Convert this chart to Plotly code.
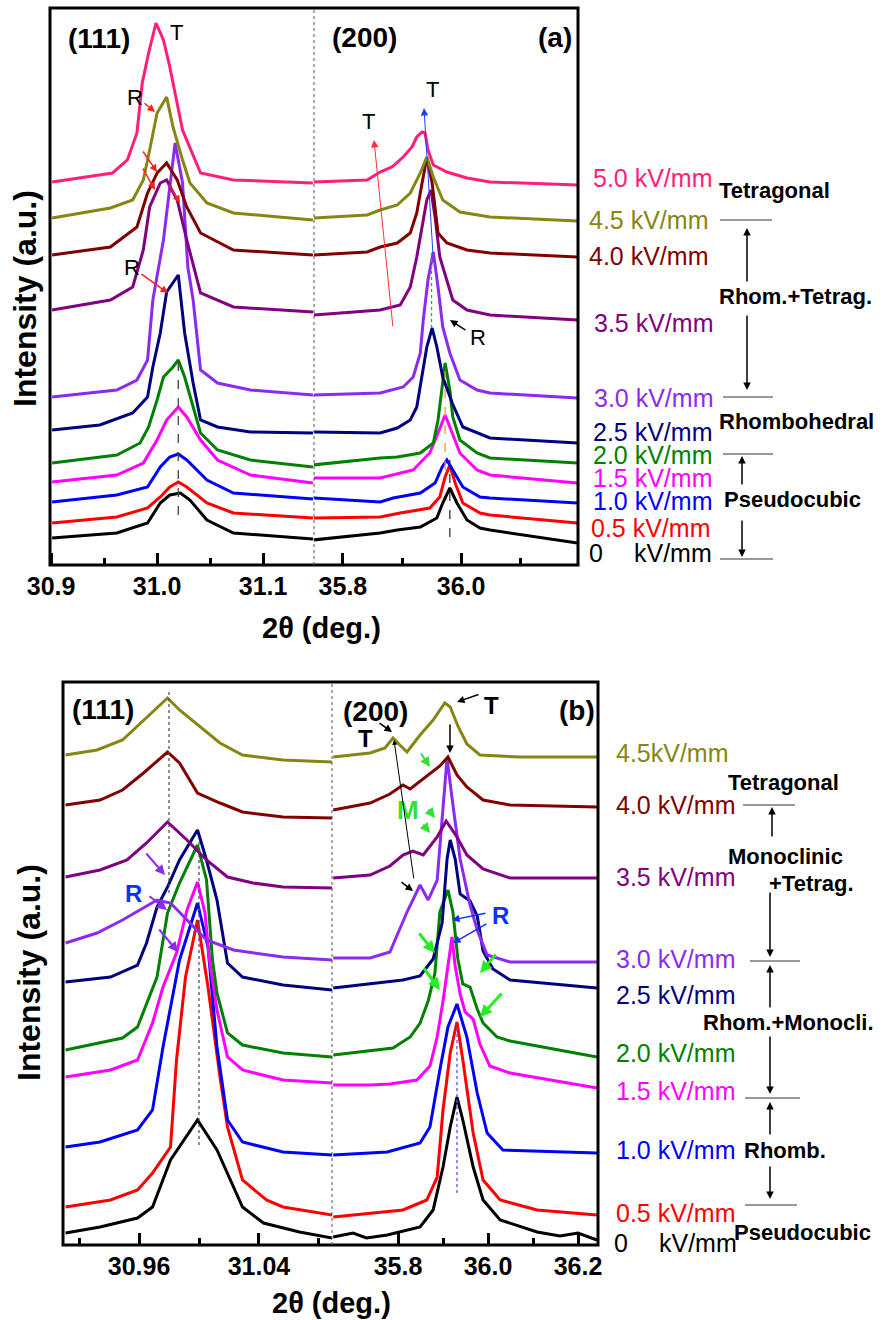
import plotly.graph_objects as go

# ---------------- DATA ----------------
FIELDS_A = ["0", "0.5", "1.0", "1.5", "2.0", "2.5", "3.0", "3.5", "4.0", "4.5", "5.0"]
FIELDS_B = ["0", "0.5", "1.0", "1.5", "2.0", "2.5", "3.0", "3.5", "4.0", "4.5"]
COLORS = ["#000000", "#FF0000", "#0000FF", "#FF00FF", "#008000", "#000080",
          "#8B2BF0", "#800080", "#800000", "#868612", "#FF1F78"]

# panel (a), (111) region: 2theta and offset intensity (a.u.)
A111_X = [
    [30.901, 30.962, 30.991, 31.003, 31.012, 31.022, 31.031, 31.047, 31.072, 31.147],
    [30.901, 30.962, 30.991, 31.003, 31.012, 31.020, 31.028, 31.047, 31.072, 31.147],
    [30.901, 30.962, 30.991, 31.003, 31.012, 31.020, 31.028, 31.047, 31.072, 31.147],
    [30.901, 30.962, 30.987, 31.000, 31.009, 31.020, 31.028, 31.041, 31.057, 31.088, 31.147],
    [30.901, 30.962, 30.984, 30.992, 31.000, 31.006, 31.015, 31.020, 31.026, 31.034, 31.041, 31.057, 31.088, 31.147],
    [30.901, 30.946, 30.977, 30.991, 30.996, 31.003, 31.009, 31.020, 31.026, 31.034, 31.041, 31.057, 31.088, 31.147],
    [30.901, 30.962, 30.981, 30.991, 30.996, 31.006, 31.012, 31.017, 31.024, 31.029, 31.034, 31.041, 31.057, 31.088, 31.147],
    [30.901, 30.956, 30.977, 30.987, 30.993, 31.003, 31.009, 31.019, 31.028, 31.041, 31.072, 31.147],
    [30.901, 30.956, 30.981, 30.991, 31.000, 31.009, 31.019, 31.028, 31.041, 31.072, 31.147],
    [30.901, 30.956, 30.977, 30.987, 30.993, 31.000, 31.009, 31.015, 31.024, 31.031, 31.047, 31.072, 31.147],
    [30.901, 30.958, 30.972, 30.981, 30.986, 30.992, 30.999, 31.006, 31.012, 31.024, 31.041, 31.072, 31.147],
]
A111_I = [
    [27, 32, 42, 62, 70, 72, 65, 45, 32, 26],
    [42, 48, 57, 68, 78, 83, 78, 62, 52, 47],
    [63, 70, 78, 98, 108, 111, 105, 85, 72, 66],
    [83, 90, 102, 125, 145, 158, 148, 125, 105, 90, 82],
    [102, 110, 122, 138, 165, 188, 198, 205, 188, 158, 132, 115, 105, 98],
    [135, 140, 152, 168, 198, 232, 273, 290, 232, 182, 145, 138, 133, 132],
    [168, 175, 185, 205, 265, 325, 378, 422, 382, 298, 265, 195, 182, 175, 170],
    [255, 265, 278, 315, 358, 382, 385, 365, 325, 272, 258, 253],
    [310, 318, 338, 372, 392, 402, 385, 358, 332, 315, 310],
    [347, 357, 365, 385, 415, 452, 468, 438, 405, 382, 362, 352, 345],
    [383, 392, 405, 432, 482, 512, 542, 525, 498, 435, 392, 385, 382],
]

# panel (a), (200) region
A200_X = [
    [35.749, 35.863, 35.892, 35.931, 35.959, 35.969, 35.981, 35.993, 36.010, 36.032, 36.049, 36.197],
    [35.749, 35.863, 35.897, 35.947, 35.964, 35.973, 35.981, 35.990, 36.003, 36.032, 36.049, 36.197],
    [35.749, 35.863, 35.885, 35.931, 35.956, 35.968, 35.976, 35.986, 36.003, 36.032, 36.049, 36.197],
    [35.749, 35.863, 35.919, 35.947, 35.961, 35.973, 35.985, 35.998, 36.027, 36.049, 36.197],
    [35.749, 35.863, 35.892, 35.931, 35.953, 35.961, 35.968, 35.973, 35.981, 35.986, 35.998, 36.027, 36.049, 36.197],
    [35.749, 35.863, 35.892, 35.914, 35.925, 35.934, 35.942, 35.951, 35.959, 35.969, 35.985, 36.003, 36.049, 36.197],
    [35.749, 35.863, 35.902, 35.919, 35.931, 35.936, 35.944, 35.953, 35.961, 35.969, 35.981, 35.998, 36.027, 36.049, 36.197],
    [35.749, 35.863, 35.897, 35.914, 35.925, 35.934, 35.942, 35.949, 35.956, 35.964, 35.976, 35.986, 36.010, 36.049, 36.197],
    [35.749, 35.841, 35.863, 35.892, 35.914, 35.925, 35.934, 35.942, 35.951, 35.956, 35.961, 35.976, 36.010, 36.049, 36.197],
    [35.749, 35.841, 35.863, 35.892, 35.914, 35.931, 35.942, 35.953, 35.969, 35.998, 36.049, 36.197],
    [35.751, 35.841, 35.863, 35.883, 35.902, 35.917, 35.925, 35.934, 35.939, 35.944, 35.953, 35.976, 36.010, 36.049, 36.197],
]
A200_I = [
    [25, 32, 35, 38, 47, 62, 77, 62, 45, 37, 35, 22],
    [47, 48, 52, 57, 68, 88, 100, 82, 62, 52, 50, 42],
    [67, 63, 67, 72, 82, 98, 105, 95, 78, 68, 67, 62],
    [87, 87, 95, 112, 132, 150, 132, 112, 95, 90, 82],
    [100, 107, 108, 112, 122, 145, 178, 202, 175, 148, 125, 112, 107, 102],
    [133, 132, 137, 145, 158, 188, 218, 237, 218, 188, 162, 138, 127, 122],
    [170, 172, 178, 188, 212, 245, 285, 313, 278, 238, 212, 185, 175, 172, 167],
    [250, 255, 260, 278, 308, 338, 365, 375, 348, 308, 285, 265, 255, 250, 245],
    [310, 313, 318, 322, 332, 352, 382, 407, 382, 355, 332, 322, 315, 312, 308],
    [347, 350, 355, 360, 372, 392, 408, 388, 365, 353, 348, 344],
    [383, 385, 393, 398, 408, 418, 428, 433, 432, 415, 400, 393, 387, 383, 380],
]

# panel (b), (111) region
B111_X = [
    [30.911, 30.934, 30.959, 30.969, 30.981, 30.999, 31.012, 31.029, 31.043, 31.067, 31.089],
    [30.911, 30.941, 30.959, 30.969, 30.981, 30.985, 30.991, 30.999, 31.006, 31.014, 31.019, 31.029, 31.045, 31.056, 31.089],
    [30.911, 30.934, 30.959, 30.969, 30.976, 30.983, 30.987, 30.999, 31.006, 31.012, 31.019, 31.029, 31.056, 31.089],
    [30.911, 30.941, 30.959, 30.969, 30.976, 30.985, 30.992, 30.999, 31.004, 31.007, 31.012, 31.019, 31.029, 31.056, 31.089],
    [30.911, 30.949, 30.959, 30.969, 30.972, 30.979, 30.987, 30.999, 31.005, 31.009, 31.012, 31.019, 31.029, 31.056, 31.089],
    [30.911, 30.941, 30.959, 30.965, 30.972, 30.979, 30.987, 30.999, 31.005, 31.012, 31.019, 31.029, 31.056, 31.089],
    [30.911, 30.932, 30.949, 30.961, 30.972, 30.981, 30.994, 31.005, 31.023, 31.056, 31.089],
    [30.911, 30.934, 30.952, 30.965, 30.979, 30.992, 31.005, 31.019, 31.036, 31.056, 31.089],
    [30.911, 30.934, 30.949, 30.963, 30.979, 30.987, 30.999, 31.014, 31.029, 31.056, 31.089],
    [30.911, 30.932, 30.949, 30.963, 30.979, 30.987, 31.001, 31.014, 31.029, 31.056, 31.089],
]
B111_I = [
    [12, 18, 27, 38, 85, 125, 95, 38, 22, 13, 7],
    [38, 45, 55, 72, 98, 185, 268, 325, 258, 168, 118, 65, 45, 38, 30],
    [98, 103, 115, 135, 198, 252, 285, 342, 298, 198, 125, 103, 93, 90],
    [168, 175, 185, 222, 258, 292, 335, 363, 332, 285, 235, 188, 175, 165, 162],
    [195, 207, 218, 255, 268, 332, 362, 400, 365, 285, 252, 212, 200, 192, 188],
    [263, 268, 280, 302, 338, 358, 385, 415, 385, 345, 282, 268, 260, 255],
    [302, 312, 325, 335, 345, 342, 322, 305, 295, 288, 285],
    [368, 375, 385, 402, 423, 405, 385, 368, 362, 358, 357],
    [440, 445, 455, 472, 493, 482, 452, 442, 433, 428, 427],
    [490, 495, 505, 525, 547, 535, 518, 502, 490, 485, 483],
]

# panel (b), (200) region
B200_X = [
    [35.656, 35.700, 35.730, 35.776, 35.849, 35.878, 35.900, 35.916, 35.931, 35.944, 35.967, 35.989, 36.027, 36.109, 36.160, 36.200, 36.242],
    [35.656, 35.811, 35.864, 35.887, 35.900, 35.916, 35.931, 35.944, 35.967, 35.989, 36.027, 36.109, 36.242],
    [35.656, 35.776, 35.849, 35.871, 35.893, 35.911, 35.931, 35.953, 35.976, 35.998, 36.033, 36.242],
    [35.656, 35.738, 35.782, 35.842, 35.871, 35.887, 35.900, 35.911, 35.920, 35.927, 35.938, 35.949, 35.967, 35.982, 36.004, 36.049, 36.242],
    [35.656, 35.738, 35.789, 35.827, 35.849, 35.867, 35.882, 35.893, 35.911, 35.922, 35.933, 35.944, 35.960, 35.976, 35.989, 36.020, 36.049, 36.242],
    [35.656, 35.738, 35.811, 35.849, 35.878, 35.898, 35.909, 35.916, 35.927, 35.938, 35.960, 35.976, 35.989, 36.011, 36.049, 36.242],
    [35.656, 35.738, 35.782, 35.820, 35.849, 35.867, 35.887, 35.898, 35.909, 35.920, 35.938, 35.960, 35.976, 35.998, 36.049, 36.242],
    [35.656, 35.738, 35.782, 35.811, 35.833, 35.856, 35.887, 35.907, 35.931, 35.953, 35.989, 36.049, 36.242],
    [35.656, 35.738, 35.782, 35.811, 35.827, 35.864, 35.893, 35.911, 35.931, 35.953, 35.989, 36.049, 36.242],
    [35.656, 35.738, 35.771, 35.789, 35.804, 35.820, 35.849, 35.878, 35.904, 35.916, 35.933, 35.953, 35.982, 36.071, 36.242],
]
B200_I = [
    [8, 12, 7, 10, 18, 35, 78, 118, 148, 125, 78, 45, 25, 13, 9, 12, 5],
    [28, 35, 45, 68, 135, 192, 223, 185, 112, 65, 45, 35, 30],
    [90, 93, 102, 118, 175, 218, 241, 208, 152, 112, 95, 92],
    [160, 160, 161, 165, 179, 208, 244, 279, 308, 279, 251, 233, 226, 201, 179, 172, 157],
    [190, 194, 197, 208, 222, 244, 272, 333, 355, 333, 286, 261, 258, 236, 222, 208, 204, 188],
    [257, 261, 265, 269, 286, 322, 386, 405, 386, 351, 344, 329, 294, 276, 265, 257],
    [287, 287, 293, 333, 360, 345, 365, 422, 487, 447, 386, 340, 315, 290, 283, 283],
    [367, 370, 379, 390, 394, 390, 408, 424, 408, 390, 376, 367, 367],
    [435, 442, 451, 460, 456, 469, 479, 488, 470, 458, 445, 440, 438],
    [488, 492, 497, 507, 500, 493, 510, 525, 542, 538, 519, 501, 490, 488, 488],
]

# ---------------- LAYOUT HELPERS ----------------
W, H = 882, 1320
def px(x):
    return x / W
def py(y):
    return 1 - y / H

FONT = "Liberation Sans, Arial, sans-serif"
LABEL_SIZE = 25

fig = go.Figure()

def add_curves(xs, ys, xa, ya, n):
    for i in range(n):
        fig.add_trace(go.Scatter(x=xs[i], y=ys[i], mode="lines", xaxis=xa, yaxis=ya,
                                 line=dict(color=COLORS[i], width=3), showlegend=False,
                                 hoverinfo="skip"))

add_curves(A111_X, A111_I, "x", "y", 11)
add_curves(A200_X, A200_I, "x2", "y", 11)
add_curves(B111_X, B111_I, "x3", "y2", 10)
add_curves(B200_X, B200_I, "x4", "y2", 10)

tickfont = dict(family=FONT, size=25, color="black", weight="bold")

def xax(dom, rng, tv, tt, minor, anchor):
    return dict(domain=[px(dom[0]), px(dom[1])], range=rng, anchor=anchor,
                automargin=False,
                tickmode="array", tickvals=tv, ticktext=tt, ticks="inside",
                ticklen=12, tickwidth=3, tickcolor="black", showgrid=False,
                zeroline=False, showline=False, tickfont=tickfont,
                ticklabelstandoff=4,
                minor=dict(tickmode="array", tickvals=minor, ticks="inside",
                           ticklen=7, tickwidth=3, tickcolor="black", showgrid=False))

def yax(dom, rng, anchor):
    return dict(domain=[py(dom[1]), py(dom[0])], range=rng, anchor=anchor,
                automargin=False,
                showticklabels=False, ticks="", showgrid=False, zeroline=False,
                showline=False)

fig.update_layout(
    width=W, height=H, margin=dict(l=0, r=0, t=0, b=0, autoexpand=False),
    paper_bgcolor="white", plot_bgcolor="white",
    xaxis=xax((50, 314), [30.899, 31.148], [30.9, 31.0, 31.1], ["30.9", "31.0", "31.1"],
              [30.95, 31.05], "y"),
    xaxis2=xax((314, 578), [35.751, 36.198], [35.8, 36.0, 36.2], ["35.8", "36.0", "36.2"],
               [35.9, 36.1], "y"),
    yaxis=yax((8, 565), [0, 557], "x"),
    xaxis3=xax((63, 332), [30.9093, 31.0887], [30.96, 31.04], ["30.96", "31.04"],
               [30.92, 31.00, 31.08], "y2"),
    xaxis4=xax((332, 598), [35.6533, 36.2444], [35.8, 36.0, 36.2], ["35.8", "36.0", "36.2"],
               [35.9, 36.1], "y2"),
    yaxis2=yax((682, 1245), [0, 563], "x3"),
)

shapes = []
ann = []

def frame(l, r, t, b, split):
    shapes.append(dict(type="rect", xref="paper", yref="paper", x0=px(l), x1=px(r),
                       y0=py(b), y1=py(t), line=dict(color="black", width=3)))
    shapes.append(dict(type="line", xref="paper", yref="paper", x0=px(split), x1=px(split),
                       y0=py(b), y1=py(t), line=dict(color="#555555", width=1, dash="dot")))

frame(50, 578, 8, 565, 314)
frame(63, 598, 682, 1245, 332)

def vline(xref, yref, x, y0, y1, color, dash):
    shapes.append(dict(type="line", xref=xref, yref=yref, x0=x, x1=x, y0=y0, y1=y1,
                       line=dict(color=color, width=1.3, dash=dash)))

vline("x", "y", 31.02, 50, 205, "#444444", "dash")
vline("x2", "y", 35.95, 237, 313, "#33aa33", "dot")
vline("x2", "y", 35.973, 95, 198, "#FF9922", "dash")
vline("x2", "y", 35.981, 28, 105, "#333333", "dash")
vline("x3", "y2", 30.98, 352, 553, "#555555", "dot")
vline("x3", "y2", 31.00, 100, 405, "#555555", "dot")
vline("x4", "y2", 35.931, 52, 218, "#5555ff", "dot")

def pline(x0, y0, x1, y1, color="#333333", width=1):
    shapes.append(dict(type="line", xref="paper", yref="paper", x0=px(x0), x1=px(x1),
                       y0=py(y0), y1=py(y1), line=dict(color=color, width=width)))

def text(x, y, s, size=22, color="black", bold=False, xanchor="center", angle=0):
    ann.append(dict(x=px(x), y=py(y), xref="paper", yref="paper", text=s, showarrow=False,
                    xanchor=xanchor, yanchor="middle", textangle=angle, borderpad=0,
                    font=dict(family=FONT, size=size, color=color,
                              weight="bold" if bold else "normal")))

def arrow(hx, hy, tx, ty, color="black", width=1.5, head=2, size=1.0):
    ann.append(dict(x=px(hx), y=py(hy), xref="paper", yref="paper", ax=tx - hx, ay=ty - hy,
                    text="", showarrow=True, arrowhead=head, arrowsize=size,
                    arrowwidth=width, arrowcolor=color, standoff=0, startstandoff=0))

# ----- panel (a) texts -----
text(99, 38, "(111)", 28, bold=True)
text(364, 37, "(200)", 28, bold=True)
text(555, 37, "(a)", 28, bold=True)
text(176, 32, "T", 22)
text(135, 97, "R", 22)
text(132, 267, "R", 22)
text(368, 122, "T", 22)
text(432, 90, "T", 22)
text(478, 337, "R", 22)

arrow(155, 112, 143, 102, "#FF2020", 1.5)
arrow(157, 172, 142, 150, "#FF2020", 1.5)
arrow(155, 190, 142, 167, "#FF2020", 1.5)
arrow(180, 203, 168, 183, "#FF2020", 1.5)
arrow(168, 293, 140, 273, "#FF2020", 1.5)
arrow(374, 140, 393, 328, "#FF3030", 1, size=1.5)
arrow(424, 108, 433, 255, "#2040FF", 1, size=1.5)
arrow(450, 320, 467, 331, "black", 1.5)

# field labels (a)
LAB_Y_A = [553, 528, 501, 478, 455, 432, 398, 323, 256, 220, 178]
LAB_X_A = [588, 590, 592, 592, 592, 592, 593, 593, 588, 588, 592]
for i, f in enumerate(FIELDS_A):
    if f == "0":
        text(LAB_X_A[i], LAB_Y_A[i], "0", LABEL_SIZE, COLORS[i], xanchor="left")
        text(633, LAB_Y_A[i], "kV/mm", LABEL_SIZE, COLORS[i], xanchor="left")
    else:
        text(LAB_X_A[i], LAB_Y_A[i], f + " kV/mm", LABEL_SIZE, COLORS[i], xanchor="left")

# phase labels (a)
text(718, 191, "Tetragonal", 22, bold=True, xanchor="left")
pline(720, 220, 772, 220)
text(718, 297, "Rhom.+Tetrag.", 22, bold=True, xanchor="left")
arrow(747, 228, 747, 283)
arrow(747, 390, 747, 314)
pline(723, 397, 773, 397)
text(718, 421, "Rhombohedral", 22, bold=True, xanchor="left")
pline(723, 454, 773, 454)
arrow(742, 456, 742, 486)
text(723, 499, "Pseudocubic", 22, bold=True, xanchor="left")
arrow(742, 557, 742, 519)
pline(720, 559, 773, 559)

# axis titles (a)
text(321, 628, "2θ (deg.)", 29, bold=True)
text(25, 299, "Intensity (a.u.)", 32, bold=True, angle=-90)

# ----- panel (b) texts -----
text(103, 709, "(111)", 28, bold=True)
text(375, 711, "(200)", 28, bold=True)
text(577, 710, "(b)", 28, bold=True)
text(492, 705, "T", 24, bold=True)
text(365, 738, "T", 24, bold=True)
text(408, 810, "M", 26, "#33E033", bold=True)
text(500, 915, "R", 24, "#1030FF", bold=True)
text(133, 893, "R", 24, "#1030FF", bold=True)

arrow(457, 702, 480, 694)
arrow(450, 753, 450, 723)
arrow(392, 732, 378, 722)
arrow(394, 740, 414, 880, "black", 1)
arrow(413, 891, 400, 881)
for h, t in [((430, 767), (420, 752)), ((435, 818), (427, 808)), ((430, 833), (422, 823))]:
    arrow(h[0], h[1], t[0], t[1], "#33E033", 2)
arrow(452, 920, 487, 913, "#1030FF", 1.5)
arrow(453, 943, 488, 923, "#1030FF", 1.5)
for h, t in [((435, 953), (418, 932)), ((440, 990), (423, 967)),
             ((480, 973), (497, 953)), ((480, 1017), (503, 992))]:
    arrow(h[0], h[1], t[0], t[1], "#22EE22", 3, size=0.8)
for h, t in [((165, 875), (145, 852)), ((167, 910), (148, 895)), ((178, 952), (158, 928))]:
    arrow(h[0], h[1], t[0], t[1], "#8B2BF0", 2)

# field labels (b)
LAB_Y_B = [1243, 1213, 1150, 1091, 1053, 995, 959, 877, 805, 753]
for i, f in enumerate(FIELDS_B):
    if f == "0":
        text(613, LAB_Y_B[i], "0", LABEL_SIZE, COLORS[i], xanchor="left")
        text(658, LAB_Y_B[i], "kV/mm", LABEL_SIZE, COLORS[i], xanchor="left")
    elif f == "4.5":
        text(615, LAB_Y_B[i], f + "kV/mm", LABEL_SIZE, COLORS[i], xanchor="left")
    else:
        text(615, LAB_Y_B[i], f + " kV/mm", LABEL_SIZE, COLORS[i], xanchor="left")

# phase labels (b)
text(727, 782, "Tetragonal", 22, bold=True, xanchor="left")
pline(743, 805, 795, 805)
arrow(772, 807, 772, 838)
text(727, 856, "Monoclinic", 22, bold=True, xanchor="left")
text(768, 883, "+Tetrag.", 22, bold=True, xanchor="left")
arrow(770, 957, 770, 891)
pline(750, 961, 800, 961)
arrow(770, 965, 770, 1009)
text(702, 1022, "Rhom.+Monocli.", 22, bold=True, xanchor="left")
arrow(770, 1094, 770, 1035)
pline(745, 1098, 800, 1098)
arrow(770, 1102, 770, 1136)
text(743, 1150, "Rhomb.", 22, bold=True, xanchor="left")
arrow(770, 1199, 770, 1165)
pline(745, 1205, 797, 1205)
text(733, 1232, "Pseudocubic", 22, bold=True, xanchor="left")

# axis titles (b)
text(331, 1303, "2θ (deg.)", 29, bold=True)
text(29, 973, "Intensity (a.u.)", 32, bold=True, angle=-90)

fig.update_layout(shapes=shapes, annotations=ann)
fig.write_html("out.html")
